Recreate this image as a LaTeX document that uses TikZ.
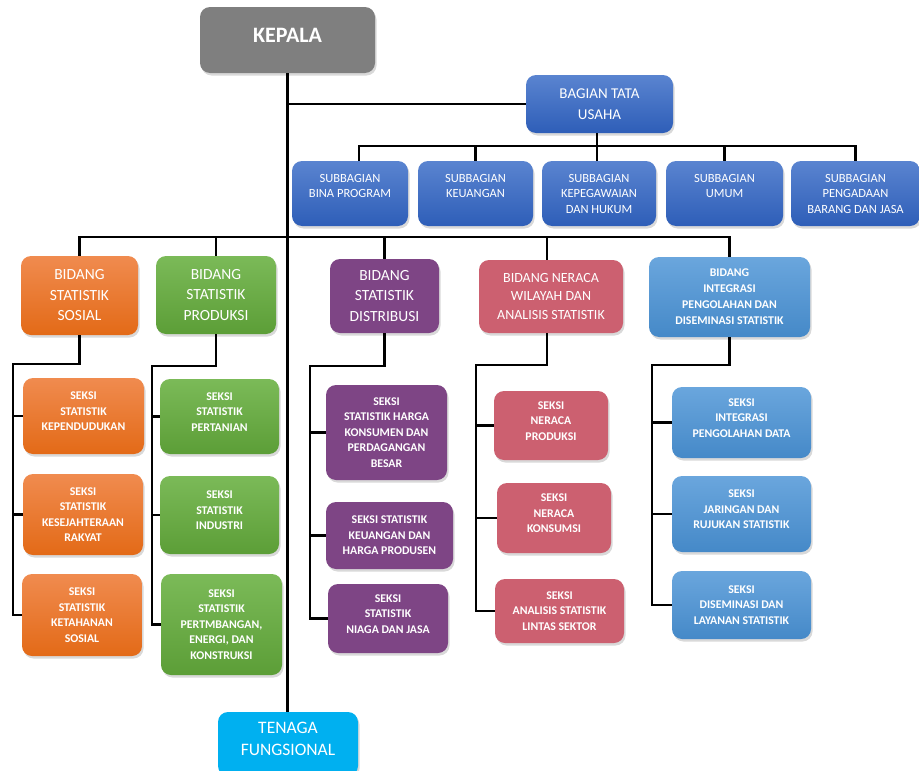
\documentclass[tikz,border=0pt]{standalone}
\usepackage{fontspec}
\setmainfont{Carlito}
\usetikzlibrary{shadows}
\definecolor{gryC}{HTML}{7F7F7F}
\definecolor{dbT}{HTML}{5A84D0}
\definecolor{dbB}{HTML}{2E5EB8}
\definecolor{orT}{HTML}{F08B4F}
\definecolor{orB}{HTML}{E36A17}
\definecolor{grT}{HTML}{7BBA58}
\definecolor{grB}{HTML}{5C9E37}
\definecolor{puC}{HTML}{7E4585}
\definecolor{pkC}{HTML}{CC6070}
\definecolor{lbT}{HTML}{6AA6DD}
\definecolor{lbB}{HTML}{4589C8}
\definecolor{cyC}{HTML}{00B0F0}
\newcommand\upx{\\[-6.5pt]~}
\begin{document}
\begin{tikzpicture}[x=1pt,y=-1pt,
  box/.style={rounded corners=10pt, inner sep=0pt, align=center, text=white,
    drop shadow={opacity=0.3, shadow xshift=1.5pt, shadow yshift=-2.5pt}},
  fs/.style 2 args={font=\fontsize{#1}{#2}\selectfont},
  gry/.style={box, fill=gryC},
  dblue/.style={box, top color=dbT, bottom color=dbB},
  orng/.style={box, top color=orT, bottom color=orB},
  grn/.style={box, top color=grT, bottom color=grB},
  purp/.style={box, fill=puC},
  pink/.style={box, fill=pkC},
  lblue/.style={box, top color=lbT, bottom color=lbB},
  cyanb/.style={box, fill=cyC},
  subb/.style={fs={12.5}{15.5}},
  seksi/.style={font=\fontsize{11.8}{15.5}\selectfont\bfseries},
  conn/.style={draw=black, line width=2.2pt}
]
\useasboundingbox (0,0) rectangle (919,771);

% Top
\node[gry, font=\fontsize{22}{26}\selectfont\bfseries, minimum width=175pt, minimum height=66pt] (kepala) at (287.5,40) {KEPALA\\[-16pt]~};
\node[dblue, fs={15}{21}, minimum width=147pt, minimum height=58pt] (btu) at (599.5,104) {BAGIAN TATA\\USAHA};

% Subbagian
\node[dblue, subb, minimum width=116pt, minimum height=65pt] (s1) at (350,193.5) {SUBBAGIAN\\BINA PROGRAM\\~};
\node[dblue, subb, minimum width=115pt, minimum height=65pt] (s2) at (475.5,193.5) {SUBBAGIAN\\KEUANGAN\\~};
\node[dblue, subb, minimum width=114pt, minimum height=65pt] (s3) at (599,193.5) {SUBBAGIAN\\KEPEGAWAIAN\\DAN HUKUM};
\node[dblue, subb, minimum width=117pt, minimum height=65pt] (s4) at (724.5,193.5) {SUBBAGIAN\\UMUM\\~};
\node[dblue, subb, minimum width=129pt, minimum height=65pt] (s5) at (855.5,193.5) {SUBBAGIAN\\PENGADAAN\\BARANG DAN JASA};

% Bidang
\node[orng, fs={15.5}{20.5}, minimum width=117pt, minimum height=79pt] (sosial) at (79.5,295.5) {BIDANG\\STATISTIK\\SOSIAL};
\node[grn, fs={15.5}{20.5}, minimum width=120pt, minimum height=78pt] (produksi) at (216,295) {BIDANG\\STATISTIK\\PRODUKSI};
\node[purp, fs={15.5}{20.5}, minimum width=109pt, minimum height=74pt] (distribusi) at (384.5,296) {BIDANG\\STATISTIK\\DISTRIBUSI};
\node[pink, fs={14}{18.5}, minimum width=144pt, minimum height=73pt] (neraca) at (551,296.5) {BIDANG NERACA\\WILAYAH DAN\\ANALISIS STATISTIK};
\node[lblue, font=\fontsize{11.8}{16}\selectfont\bfseries, minimum width=161pt, minimum height=80pt] (integrasi) at (729.5,297) {BIDANG\\INTEGRASI\\PENGOLAHAN DAN\\DISEMINASI STATISTIK};

% Seksi orange
\node[orng, seksi, minimum width=121pt, minimum height=76pt] (o1) at (83.5,416) {SEKSI\\STATISTIK\\KEPENDUDUKAN\upx};
\node[orng, seksi, minimum width=120pt, minimum height=81pt] (o2) at (83,514.5) {SEKSI\\STATISTIK\\KESEJAHTERAAN\\RAKYAT};
\node[orng, seksi, minimum width=120pt, minimum height=82pt] (o3) at (82,615) {SEKSI\\STATISTIK\\KETAHANAN\\SOSIAL};
% Seksi green
\node[grn, seksi, minimum width=119pt, minimum height=75pt] (g1) at (219.5,416.5) {SEKSI\\STATISTIK\\PERTANIAN\upx};
\node[grn, seksi, minimum width=119pt, minimum height=78pt] (g2) at (219.5,515) {SEKSI\\STATISTIK\\INDUSTRI\upx};
\node[grn, seksi, minimum width=121pt, minimum height=101pt] (g3) at (221.5,624.5) {SEKSI\\STATISTIK\\PERTMBANGAN,\\ENERGI, DAN\\KONSTRUKSI};
% Seksi purple
\node[purp, seksi, minimum width=121pt, minimum height=95pt] (p1) at (386.5,432.5) {SEKSI\\STATISTIK HARGA\\KONSUMEN DAN\\PERDAGANGAN\\BESAR};
\node[purp, seksi, minimum width=127pt, minimum height=67pt] (p2) at (389.5,535.5) {SEKSI STATISTIK\\KEUANGAN DAN\\HARGA PRODUSEN};
\node[purp, seksi, minimum width=120pt, minimum height=69pt] (p3) at (388,618.5) {SEKSI\\STATISTIK\\NIAGA DAN JASA\upx};
% Seksi pink
\node[pink, seksi, minimum width=114pt, minimum height=69pt] (r1) at (551,425.5) {SEKSI\\NERACA\\PRODUKSI\upx};
\node[pink, seksi, minimum width=114pt, minimum height=70pt] (r2) at (554,518) {SEKSI\\NERACA\\KONSUMSI\upx};
\node[pink, seksi, minimum width=129pt, minimum height=64pt] (r3) at (559.5,611) {SEKSI\\ANALISIS STATISTIK\\LINTAS SEKTOR};
% Seksi light blue
\node[lblue, seksi, minimum width=139pt, minimum height=71pt] (b1) at (741.5,422.5) {SEKSI\\INTEGRASI\\PENGOLAHAN DATA\upx};
\node[lblue, seksi, minimum width=139pt, minimum height=76pt] (b2) at (741.5,514) {SEKSI\\JARINGAN DAN\\RUJUKAN STATISTIK\upx};
\node[lblue, seksi, minimum width=139pt, minimum height=68pt] (b3) at (741.5,605) {SEKSI\\DISEMINASI DAN\\LAYANAN STATISTIK};

% Tenaga fungsional
\node[cyanb, fs={17.5}{22}, minimum width=140pt, minimum height=64pt] (tenaga) at (288,744) {TENAGA\\FUNGSIONAL\\[-12pt]~};

% Connectors
\coordinate (tbar) at (597,146);
\coordinate (bbar) at (287.5,237);
\draw[conn] (kepala.south) -- (kepala.south |- tenaga.north);
\draw[conn] (kepala.south |- btu.west) -- (btu.west);
\draw[conn] ([xshift=-2.5pt]btu.south) -- (tbar);
\draw[conn] ([xshift=9pt]s1.north) |- (tbar) -| (s5.north);
\draw[conn] (tbar) -| (s2.north);
\draw[conn] (tbar) -| (s4.north);
\draw[conn] (tbar) -- (tbar |- s3.north);

\draw[conn] (sosial.north) |- (bbar) -| (integrasi.north);
\draw[conn] (bbar) -| (produksi.north);
\draw[conn] (bbar) -| (distribusi.north);
\draw[conn] (bbar) -| ([xshift=-4pt]neraca.north);

\coordinate (sosK) at (13,364);
\draw[conn] (sosial.south) |- (sosK) |- (o3.west);
\draw[conn] (sosK) |- (o1.west);
\draw[conn] (sosK) |- (o2.west);

\coordinate (proK) at (152,366);
\draw[conn] (produksi.south) |- (proK) |- (g3.west);
\draw[conn] (proK) |- (g1.west);
\draw[conn] (proK) |- (g2.west);

\coordinate (disK) at (310,366);
\draw[conn] (distribusi.south) |- (disK) |- (p3.west);
\draw[conn] (disK) |- (p1.west);
\draw[conn] (disK) |- (p2.west);

\coordinate (nerK) at (476,365);
\draw[conn] ([xshift=-4pt]neraca.south) |- (nerK) |- (r3.west);
\draw[conn] (nerK) |- (r1.west);
\draw[conn] (nerK) |- (r2.west);

\coordinate (intK) at (652,365);
\draw[conn] (integrasi.south) |- (intK) |- (b3.west);
\draw[conn] (intK) |- (b1.west);
\draw[conn] (intK) |- (b2.west);
\end{tikzpicture}
\end{document}
